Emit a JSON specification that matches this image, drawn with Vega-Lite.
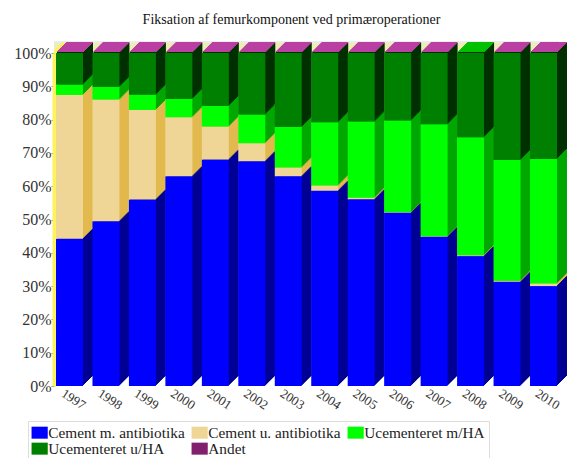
{"$schema":"https://vega.github.io/schema/vega-lite/v6.json","width":505,"height":333,"autosize":{"type":"none"},"padding":{"left":54,"top":53,"right":9,"bottom":72},"background":"white","config":{"view":{"stroke":null},"font":"Liberation Serif"},
"title":{"text":"Fiksation af femurkomponent ved primæroperationer","font":"Liberation Serif","fontSize":14,"fontWeight":"normal","color":"#111","anchor":"middle","dx":-15,"offset":14},
"datasets":{"d":[
{"year":"1997","series":"Cement m. antibiotika","rank":1,"value":44.2},{"year":"1997","series":"Cement u. antibiotika","rank":2,"value":43.2},{"year":"1997","series":"Ucementeret m/HA","rank":3,"value":3.1},{"year":"1997","series":"Ucementeret u/HA","rank":4,"value":9.5},{"year":"1997","series":"Andet","rank":5,"value":0.3},
{"year":"1998","series":"Cement m. antibiotika","rank":1,"value":49.5},{"year":"1998","series":"Cement u. antibiotika","rank":2,"value":36.5},{"year":"1998","series":"Ucementeret m/HA","rank":3,"value":3.8},{"year":"1998","series":"Ucementeret u/HA","rank":4,"value":10.2},{"year":"1998","series":"Andet","rank":5,"value":0.3},
{"year":"1999","series":"Cement m. antibiotika","rank":1,"value":56},{"year":"1999","series":"Cement u. antibiotika","rank":2,"value":26.9},{"year":"1999","series":"Ucementeret m/HA","rank":3,"value":4.6},{"year":"1999","series":"Ucementeret u/HA","rank":4,"value":12.5},{"year":"1999","series":"Andet","rank":5,"value":0.3},
{"year":"2000","series":"Cement m. antibiotika","rank":1,"value":63},{"year":"2000","series":"Cement u. antibiotika","rank":2,"value":17.7},{"year":"2000","series":"Ucementeret m/HA","rank":3,"value":5.5},{"year":"2000","series":"Ucementeret u/HA","rank":4,"value":13.8},{"year":"2000","series":"Andet","rank":5,"value":0.3},
{"year":"2001","series":"Cement m. antibiotika","rank":1,"value":68},{"year":"2001","series":"Cement u. antibiotika","rank":2,"value":9.9},{"year":"2001","series":"Ucementeret m/HA","rank":3,"value":6.2},{"year":"2001","series":"Ucementeret u/HA","rank":4,"value":15.9},{"year":"2001","series":"Andet","rank":5,"value":0.3},
{"year":"2002","series":"Cement m. antibiotika","rank":1,"value":67.5},{"year":"2002","series":"Cement u. antibiotika","rank":2,"value":5.4},{"year":"2002","series":"Ucementeret m/HA","rank":3,"value":8.6},{"year":"2002","series":"Ucementeret u/HA","rank":4,"value":18.5},{"year":"2002","series":"Andet","rank":5,"value":0.3},
{"year":"2003","series":"Cement m. antibiotika","rank":1,"value":63},{"year":"2003","series":"Cement u. antibiotika","rank":2,"value":2.6},{"year":"2003","series":"Ucementeret m/HA","rank":3,"value":12.2},{"year":"2003","series":"Ucementeret u/HA","rank":4,"value":22.2},{"year":"2003","series":"Andet","rank":5,"value":0.3},
{"year":"2004","series":"Cement m. antibiotika","rank":1,"value":58.6},{"year":"2004","series":"Cement u. antibiotika","rank":2,"value":1.6},{"year":"2004","series":"Ucementeret m/HA","rank":3,"value":19},{"year":"2004","series":"Ucementeret u/HA","rank":4,"value":20.8},{"year":"2004","series":"Andet","rank":5,"value":0.3},
{"year":"2005","series":"Cement m. antibiotika","rank":1,"value":56.1},{"year":"2005","series":"Cement u. antibiotika","rank":2,"value":0.4},{"year":"2005","series":"Ucementeret m/HA","rank":3,"value":22.9},{"year":"2005","series":"Ucementeret u/HA","rank":4,"value":20.6},{"year":"2005","series":"Andet","rank":5,"value":0.3},
{"year":"2006","series":"Cement m. antibiotika","rank":1,"value":52},{"year":"2006","series":"Cement u. antibiotika","rank":2,"value":0.2},{"year":"2006","series":"Ucementeret m/HA","rank":3,"value":27.5},{"year":"2006","series":"Ucementeret u/HA","rank":4,"value":20.3},{"year":"2006","series":"Andet","rank":5,"value":0.3},
{"year":"2007","series":"Cement m. antibiotika","rank":1,"value":44.8},{"year":"2007","series":"Cement u. antibiotika","rank":2,"value":0.2},{"year":"2007","series":"Ucementeret m/HA","rank":3,"value":33.6},{"year":"2007","series":"Ucementeret u/HA","rank":4,"value":21.4},{"year":"2007","series":"Andet","rank":5,"value":0.3},
{"year":"2008","series":"Cement m. antibiotika","rank":1,"value":39},{"year":"2008","series":"Cement u. antibiotika","rank":2,"value":0.3},{"year":"2008","series":"Ucementeret m/HA","rank":3,"value":35.4},{"year":"2008","series":"Ucementeret u/HA","rank":4,"value":25.3},{"year":"2008","series":"Andet","rank":5,"value":0.3},
{"year":"2009","series":"Cement m. antibiotika","rank":1,"value":31.3},{"year":"2009","series":"Cement u. antibiotika","rank":2,"value":0.3},{"year":"2009","series":"Ucementeret m/HA","rank":3,"value":36.3},{"year":"2009","series":"Ucementeret u/HA","rank":4,"value":32.1},{"year":"2009","series":"Andet","rank":5,"value":0.3},
{"year":"2010","series":"Cement m. antibiotika","rank":1,"value":30},{"year":"2010","series":"Cement u. antibiotika","rank":2,"value":0.8},{"year":"2010","series":"Ucementeret m/HA","rank":3,"value":37.4},{"year":"2010","series":"Ucementeret u/HA","rank":4,"value":31.8},{"year":"2010","series":"Andet","rank":5,"value":0.3}
]},
"data":{"name":"d"},
"layer":[
{"data":{"values":[{"a":1}]},"mark":{"type":"rect","fill":"#eeeeb4"},"encoding":{"y":{"datum":100,"type":"quantitative","scale":{"domain":[0,100],"nice":false,"zero":true},"axis":{"values":[0,10,20,30,40,50,60,70,80,90,100],"labelExpr":"datum.value+'%'","labelOverlap":false,"grid":false,"domainColor":"#fff25a","domainWidth":4,"ticks":true,"tickSize":3,"tickColor":"#888","labelFont":"Liberation Serif","labelFontSize":16,"labelColor":"#333","labelPadding":0,"title":null}},"y2":{"datum":103}}},
{"data":{"values":[{"a":1}]},"mark":{"type":"rule","stroke":"#d8d8d8","strokeWidth":1},"encoding":{"y":{"datum":103.3,"type":"quantitative","axis":{"values":[0,10,20,30,40,50,60,70,80,90,100],"labelExpr":"datum.value+'%'","labelOverlap":false,"grid":false,"domainColor":"#fff25a","domainWidth":4,"ticks":true,"tickSize":3,"tickColor":"#888","labelFont":"Liberation Serif","labelFontSize":16,"labelColor":"#333","labelPadding":0,"title":null}}}},
{"data":{"values":[{"a":1}]},"mark":{"type":"rule","stroke":"#fff25a","strokeWidth":4,"xOffset":-15,"x2Offset":-4},"encoding":{"x":{"datum":"1997","type":"nominal"},"x2":{"datum":"1997"},"y":{"datum":100,"type":"quantitative","axis":{"values":[0,10,20,30,40,50,60,70,80,90,100],"labelExpr":"datum.value+'%'","labelOverlap":false,"grid":false,"domainColor":"#fff25a","domainWidth":4,"ticks":true,"tickSize":3,"tickColor":"#888","labelFont":"Liberation Serif","labelFontSize":16,"labelColor":"#333","labelPadding":0,"title":null}},"y2":{"datum":103}}},
{"encoding":{"x":{"field":"year","type":"nominal","scale":{"paddingInner":0.26,"paddingOuter":0.055},"axis":{"labelAngle":33,"domain":false,"ticks":false,"labelFont":"Liberation Serif","labelFontSize":13,"labelColor":"#333","labelPadding":13,"labelAlign":"center","labelBaseline":"middle","labelOverlap":false,"labelOffset":4,"title":null}},"y":{"field":"value","type":"quantitative","stack":"zero","axis":{"values":[0,10,20,30,40,50,60,70,80,90,100],"labelExpr":"datum.value+'%'","labelOverlap":false,"grid":false,"domainColor":"#fff25a","domainWidth":4,"ticks":true,"tickSize":3,"tickColor":"#888","labelFont":"Liberation Serif","labelFontSize":16,"labelColor":"#333","labelPadding":0,"title":null}},"order":{"field":"rank","type":"ordinal"},
"color":{"condition":{"test":"datum.year=='2008'&&datum.series=='Andet'","value":"#00c000"},"field":"series","type":"nominal","legend":null,"scale":{"domain":["Andet","Ucementeret u/HA","Ucementeret m/HA","Cement u. antibiotika","Cement m. antibiotika"],"range":["#b93fa3","#003000","#00a800","#e2b94e","#000094"]}}},
"layer":[
{"mark":{"type":"bar","xOffset":10,"x2Offset":10,"yOffset":-10,"y2Offset":-10}},
{"mark":{"type":"bar","xOffset":9,"x2Offset":9,"yOffset":-9,"y2Offset":-9}},
{"mark":{"type":"bar","xOffset":8,"x2Offset":8,"yOffset":-8,"y2Offset":-8}},
{"mark":{"type":"bar","xOffset":7,"x2Offset":7,"yOffset":-7,"y2Offset":-7}},
{"mark":{"type":"bar","xOffset":6,"x2Offset":6,"yOffset":-6,"y2Offset":-6}},
{"mark":{"type":"bar","xOffset":5,"x2Offset":5,"yOffset":-5,"y2Offset":-5}},
{"mark":{"type":"bar","xOffset":4,"x2Offset":4,"yOffset":-4,"y2Offset":-4}},
{"mark":{"type":"bar","xOffset":3,"x2Offset":3,"yOffset":-3,"y2Offset":-3}},
{"mark":{"type":"bar","xOffset":2,"x2Offset":2,"yOffset":-2,"y2Offset":-2}},
{"mark":{"type":"bar","xOffset":1,"x2Offset":1,"yOffset":-1,"y2Offset":-1}}
]},
{"transform":[{"filter":"datum.series!='Andet'"}],"mark":{"type":"bar"},"encoding":{"x":{"field":"year","type":"nominal"},"y":{"field":"value","type":"quantitative","stack":"zero","axis":{"values":[0,10,20,30,40,50,60,70,80,90,100],"labelExpr":"datum.value+'%'","labelOverlap":false,"grid":false,"domainColor":"#fff25a","domainWidth":4,"ticks":true,"tickSize":3,"tickColor":"#888","labelFont":"Liberation Serif","labelFontSize":16,"labelColor":"#333","labelPadding":0,"title":null}},"order":{"field":"rank","type":"ordinal"},
"fill":{"field":"series","type":"nominal","scale":{"domain":["Cement m. antibiotika","Cement u. antibiotika","Ucementeret m/HA","Ucementeret u/HA","Andet"],"range":["#0000ff","#f0d696","#00ff00","#008000","#80206e"]},"legend":{"orient":"none","direction":"horizontal","legendX":-26,"legendY":368,"columns":3,"title":null,"symbolType":"M-1.35,-1H1.35V1H-1.35Z","symbolSize":144,"symbolStrokeWidth":0,"labelFont":"Liberation Serif","labelFontSize":15.3,"labelColor":"#222","labelLimit":300,"labelOffset":1,"columnPadding":6,"rowPadding":0,"padding":4,"strokeColor":"#ddd","fillColor":"white"}}}}
]}
